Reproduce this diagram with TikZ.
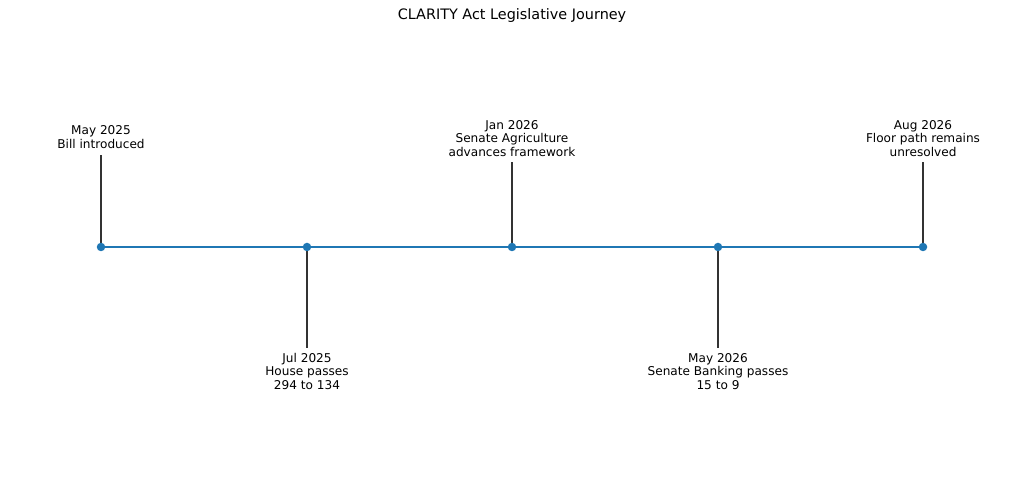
\documentclass[tikz,border=0pt]{standalone}
\usepackage{fontspec}
\setmainfont{DejaVu Sans}
\definecolor{tabblue}{HTML}{1F77B4}
\begin{document}
\begin{tikzpicture}[x=1pt,y=1pt,
  lbl/.style={inner sep=0pt,align=center,font=\fontsize{12.1}{13.5}\selectfont},
  stem/.style={draw=black!80,line width=1.1pt},
  tl/.style={draw=tabblue,line width=2.9pt},
  dot/.style={circle,fill=tabblue,inner sep=0pt,minimum size=8.5pt}]
\useasboundingbox (0,0) rectangle (1024,489);
\node[inner sep=0pt,anchor=base,font=\fontsize{14.4}{17}\selectfont] (title) at (512,469) {CLARITY Act Legislative Journey};
\draw[tl] (101,242) -- (923,242);
\coordinate (s1) at (101,334);
\coordinate (s2) at (307,141);
\coordinate (s3) at (512,327);
\coordinate (s4) at (718,141);
\coordinate (s5) at (923,327);
\coordinate (c1) at (101,242);
\coordinate (c2) at (307,242);
\coordinate (c3) at (512,242);
\coordinate (c4) at (718,242);
\coordinate (c5) at (923,242);
\draw[stem] (c1) -- (s1);
\draw[stem] (c2) -- (s2);
\draw[stem] (c3) -- (s3);
\draw[stem] (c4) -- (s4);
\draw[stem] (c5) -- (s5);
\node[dot] (p1) at (c1) {};
\node[dot] (p2) at (c2) {};
\node[dot] (p3) at (c3) {};
\node[dot] (p4) at (c4) {};
\node[dot] (p5) at (c5) {};
\node[lbl,anchor=south] (l1) at (101,340.5) {May 2025\\Bill introduced};
\node[lbl,anchor=north] (l2) at (307,136.1) {Jul 2025\\House passes\\294 to 134};
\node[lbl,anchor=south] (l3) at (512,332.5) {Jan 2026\\Senate Agriculture\\advances framework};
\node[lbl,anchor=north] (l4) at (718,136.1) {May 2026\\Senate Banking passes\\15 to 9};
\node[lbl,anchor=south] (l5) at (923,332.5) {Aug 2026\\Floor path remains\\unresolved};
\end{tikzpicture}
\end{document}
